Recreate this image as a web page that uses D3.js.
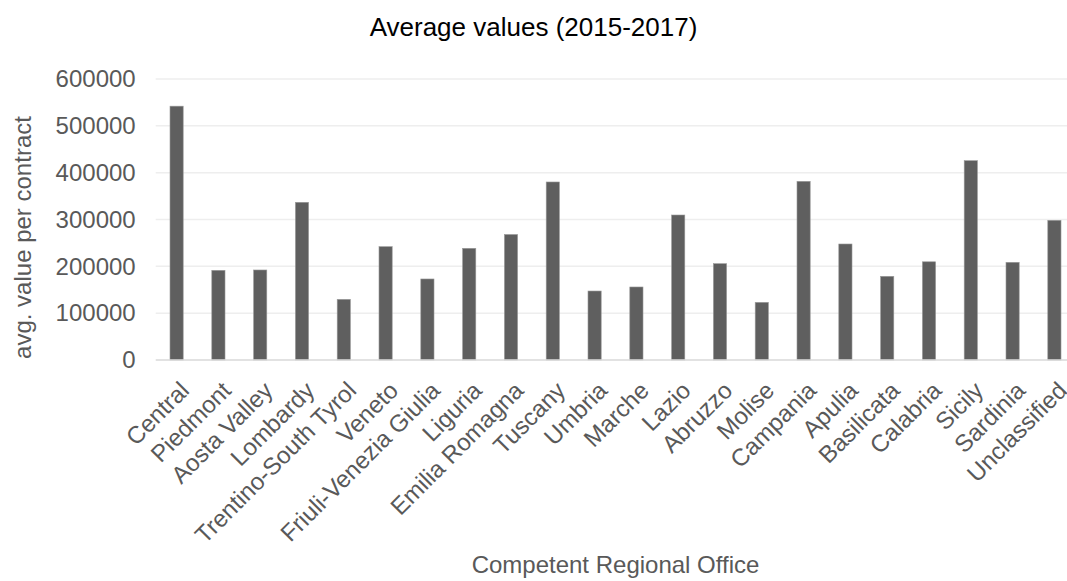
<!DOCTYPE html>
<html>
<head>
<meta charset="utf-8">
<script src="https://cdn.jsdelivr.net/npm/d3@7"></script>
<style>
  html, body { margin: 0; padding: 0; background: #ffffff; }
  svg { display: block; }
  text { font-family: "Liberation Sans", Arial, Helvetica, sans-serif; }
</style>
</head>
<body>
<script>
const categories = ["Central", "Piedmont", "Aosta Valley", "Lombardy", "Trentino-South Tyrol", "Veneto",
  "Friuli-Venezia Giulia", "Liguria", "Emilia Romagna", "Tuscany", "Umbria", "Marche", "Lazio",
  "Abruzzo", "Molise", "Campania", "Apulia", "Basilicata", "Calabria", "Sicily", "Sardinia", "Unclassified"];
const values = [542000, 191500, 192200, 336700, 129500, 242000,
  173000, 238500, 268000, 380100, 147300, 155900, 309600,
  205700, 123100, 381500, 247700, 178700, 209700, 425600, 208600, 298300];
const yTicks = [0, 100000, 200000, 300000, 400000, 500000, 600000];
const titleText = "Average values (2015-2017)";
const xTitle = "Competent Regional Office";
const yTitle = "avg. value per contract";

const W = 1067, H = 581;
const plot = { left: 155.7, right: 1075.3, top: 79, bottom: 360 };

const svg = d3.select("body").append("svg").attr("width", W).attr("height", H);

const x = d3.scaleBand().domain(categories).range([plot.left, plot.right]).padding(0);
const y = d3.scaleLinear().domain([0, 600000]).range([plot.bottom, plot.top]);
const barW = x.bandwidth() * 0.316;

// gridlines
svg.append("g").selectAll("line").data(yTicks.filter(d => d > 0)).join("line")
  .attr("x1", plot.left).attr("x2", plot.right)
  .attr("y1", d => y(d)).attr("y2", d => y(d))
  .attr("stroke", "#eeeeee").attr("stroke-width", 1.5);

// y axis labels
const yAxis = d3.axisLeft(y).tickValues(yTicks).tickFormat(d3.format("d")).tickSize(0).tickPadding(20);
const yg = svg.append("g").attr("transform", `translate(${plot.left},0)`).call(yAxis);
yg.select(".domain").remove();
yg.selectAll("text").attr("font-size", 24).attr("fill", "#595959")
  .attr("font-family", "'Liberation Sans', Arial, sans-serif");

// bars
svg.append("g").selectAll("rect").data(values).join("rect")
  .attr("x", (d, i) => x(categories[i]) + x.bandwidth() / 2 - barW / 2)
  .attr("width", barW)
  .attr("y", d => y(d))
  .attr("height", d => y(0) - y(d))
  .attr("fill", "#5f5f5f")
  .attr("stroke", "#9a9a9a").attr("stroke-width", 0.6);

// x axis line
svg.append("line").attr("x1", plot.left).attr("x2", plot.right)
  .attr("y1", y(0)).attr("y2", y(0)).attr("stroke", "#d9d9d9").attr("stroke-width", 1.5);

// x labels
const xAxis = d3.axisBottom(x).tickSize(0).tickPadding(0);
const xg = svg.append("g").attr("transform", `translate(0,${plot.bottom})`).call(xAxis);
xg.select(".domain").remove();
xg.selectAll(".tick text")
  .attr("font-size", 24).attr("fill", "#595959")
  .attr("font-family", "'Liberation Sans', Arial, sans-serif")
  .attr("text-anchor", "end")
  .attr("y", 0).attr("dy", 0)
  .attr("transform", "translate(14,32) rotate(-45)");

// titles
svg.append("text").attr("x", W / 2).attr("y", 36).attr("text-anchor", "middle")
  .attr("font-size", 26).attr("fill", "#000000").text(titleText);

svg.append("text").attr("x", (plot.left + plot.right) / 2).attr("y", 573).attr("text-anchor", "middle")
  .attr("font-size", 24).attr("fill", "#595959").text(xTitle);

svg.append("text").attr("transform", `translate(31,${(plot.top + plot.bottom) / 2 + 18}) rotate(-90)`)
  .attr("text-anchor", "middle").attr("font-size", 24).attr("fill", "#595959").text(yTitle);
</script>
</body>
</html>
